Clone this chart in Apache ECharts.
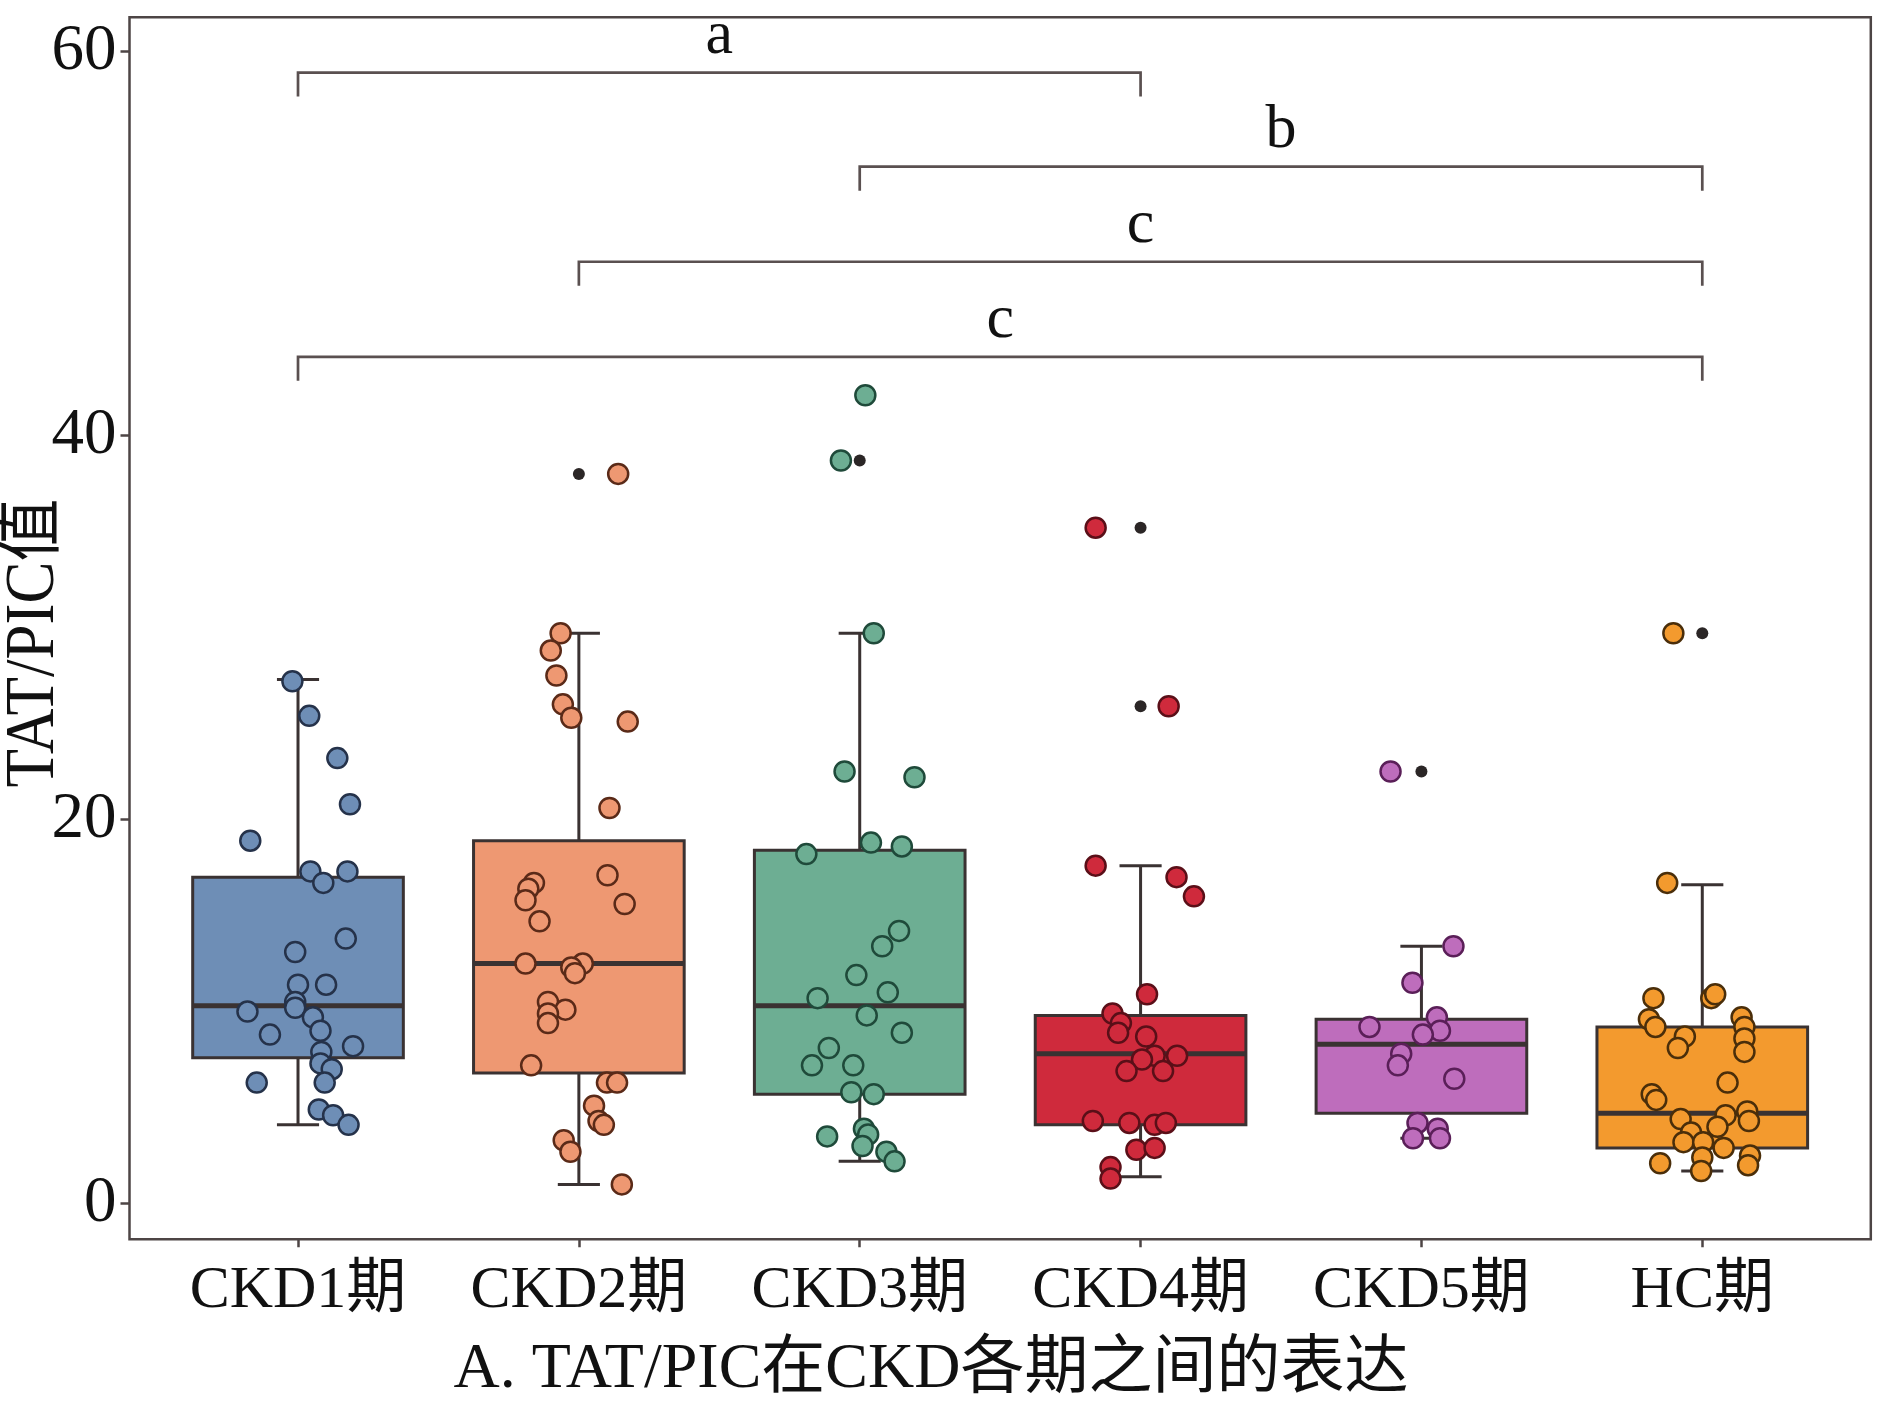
<!DOCTYPE html>
<html><head><meta charset="utf-8">
<script src="https://cdn.jsdelivr.net/npm/echarts@6/dist/echarts.min.js"></script>
<style>html,body{margin:0;padding:0;background:#fff}#c{width:1890px;height:1417px}</style>
</head><body><div id="c"></div>
<script>
// ---------------- data ----------------
const categories = ['CKD1期', 'CKD2期', 'CKD3期', 'CKD4期', 'CKD5期', 'HC期'];
const yTickValues = [0, 20, 40, 60];

// box statistics per group
const boxLow    = [4.1, 1.0, 2.2, 1.4, 3.4, 1.7];
const boxQ1     = [7.6, 6.8, 5.7, 4.1, 4.7, 2.9];
const boxMedian = [10.3, 12.5, 10.3, 7.8, 8.3, 4.7];
const boxQ3     = [17.0, 18.9, 18.4, 9.8, 9.6, 9.2];
const boxHigh   = [27.3, 29.7, 29.7, 17.6, 13.4, 16.6];

// outliers (group index, value)
const outlierGroup = [1, 2, 3, 3, 4, 5];
const outlierValue = [38.0, 38.7, 35.2, 25.9, 22.5, 29.7];

// jittered observations: values and horizontal jitter (category units)
const ckd1Values = [27.2, 25.4, 23.2, 20.8, 18.9, 17.3, 17.3, 16.7, 13.8, 13.1, 11.4, 11.4, 10.5, 10.2, 10.0, 9.7, 8.8, 9.0, 8.2, 7.9, 7.3, 7.0, 6.3, 6.3, 4.9, 4.6, 4.1];
const ckd1Jitter = [-0.02, 0.04, 0.14, 0.185, -0.17, 0.044, 0.176, 0.09, 0.17, -0.01, 0.0, 0.10, -0.01, -0.01, -0.18, 0.053, -0.10, 0.08, 0.196, 0.083, 0.08, 0.12, 0.095, -0.147, 0.074, 0.125, 0.18];

const ckd2Values = [29.7, 28.8, 27.5, 26.0, 25.3, 25.1, 20.6, 17.1, 16.7, 16.4, 15.8, 15.6, 14.7, 12.5, 12.5, 12.3, 12.0, 10.5, 10.1, 9.9, 9.4, 7.2, 6.3, 6.3, 5.1, 4.3, 4.1, 3.3, 2.7, 1.0, 38.0];
const ckd2Jitter = [-0.065, -0.10, -0.08, -0.057, -0.027, 0.174, 0.109, 0.102, -0.16, -0.18, -0.19, 0.163, -0.14, -0.19, 0.014, -0.027, -0.014, -0.11, -0.048, -0.11, -0.11, -0.17, 0.10, 0.136, 0.054, 0.07, 0.089, -0.054, -0.03, 0.153, 0.14];

const ckd3Values = [42.1, 38.7, 29.7, 22.5, 22.2, 18.2, 18.8, 18.6, 14.2, 13.4, 11.9, 10.7, 11.0, 9.8, 8.9, 8.1, 7.2, 7.2, 5.8, 5.7, 3.5, 3.9, 3.6, 3.0, 2.7, 2.2];
const ckd3Jitter = [0.02, -0.067, 0.05, -0.054, 0.195, -0.19, 0.04, 0.15, 0.14, 0.08, -0.012, -0.15, 0.10, 0.025, 0.15, -0.11, -0.17, -0.023, -0.03, 0.05, -0.116, 0.015, 0.03, 0.01, 0.095, 0.124];

const ckd4Values = [35.2, 25.9, 17.6, 17.0, 16.0, 10.9, 9.9, 9.4, 8.9, 8.7, 7.7, 7.5, 7.7, 6.9, 6.9, 4.3, 4.2, 4.1, 4.2, 2.8, 2.9, 1.9, 1.3];
const ckd4Jitter = [-0.16, 0.10, -0.16, 0.128, 0.19, 0.023, -0.10, -0.07, -0.08, 0.02, 0.05, 0.005, 0.13, -0.05, 0.08, -0.17, -0.04, 0.05, 0.09, -0.015, 0.05, -0.107, -0.107];

const ckd5Values = [22.5, 13.4, 11.5, 9.2, 9.7, 9.0, 8.8, 7.8, 7.2, 6.5, 4.2, 3.9, 3.4, 3.4];
const ckd5Jitter = [-0.11, 0.114, -0.032, -0.185, 0.055, 0.066, 0.005, -0.072, -0.084, 0.117, -0.014, 0.058, -0.03, 0.066];

const hcValues = [29.7, 16.7, 10.7, 10.7, 10.9, 9.6, 9.2, 9.7, 9.2, 8.7, 8.1, 8.6, 7.9, 6.3, 5.7, 5.4, 4.6, 4.8, 4.3, 4.4, 3.7, 4.0, 3.2, 3.2, 2.9, 2.4, 2.1, 2.5, 2.0, 1.7];
const hcJitter = [-0.103, -0.125, -0.174, 0.032, 0.046, -0.19, -0.167, 0.14, 0.15, -0.062, -0.087, 0.15, 0.15, 0.09, -0.18, -0.164, 0.083, 0.16, 0.166, -0.077, -0.04, 0.054, -0.067, 0.003, 0.076, 0.0, -0.15, 0.17, 0.163, -0.004];

// significance brackets
const bracketFrom  = [0, 2, 1, 0];
const bracketTo    = [3, 5, 5, 5];
const bracketY     = [58.9, 54.0, 49.05, 44.1];
const bracketLabel = ['a', 'b', 'c', 'c'];

const titleText = 'A. TAT/PIC在CKD各期之间的表达';
const yAxisTitle = 'TAT/PIC值';

// ---------------- styling ----------------
const fills   = ['#6E8EB6', '#EE9872', '#6DAE93', '#CF2A3C', '#BE6DBC', '#F39A2E'];
const borders = ['#25324a', '#5a2a18', '#1f4a3a', '#5a0f18', '#5a1f58', '#4a2e0a'];
const lineDark = '#3a3232';
const frameColor = '#4d4545';
const serif = "'Liberation Serif', 'Noto Sans CJK SC', serif";

const groupValues = [ckd1Values, ckd2Values, ckd3Values, ckd4Values, ckd5Values, hcValues];
const groupJitter = [ckd1Jitter, ckd2Jitter, ckd3Jitter, ckd4Jitter, ckd5Jitter, hcJitter];

const boxData = categories.map((c, i) => [i, boxLow[i], boxQ1[i], boxMedian[i], boxQ3[i], boxHigh[i]]);
const bracketData = bracketFrom.map((f, i) => [f, bracketTo[i], bracketY[i], bracketLabel[i]]);

const chart = echarts.init(document.getElementById('c'), null, { renderer: 'canvas' });

const series = [];
series.push({
  type: 'custom',
  data: boxData,
  encode: { x: 0, y: [1, 2, 3, 4, 5] },
  z: 2,
  renderItem: function (params, api) {
    const i = api.value(0);
    const pLow = api.coord([i, api.value(1)]);
    const pQ1 = api.coord([i, api.value(2)]);
    const pMed = api.coord([i, api.value(3)]);
    const pQ3 = api.coord([i, api.value(4)]);
    const pHigh = api.coord([i, api.value(5)]);
    const bw = api.size([0.75, 0])[0];
    const cw = api.size([0.15, 0])[0];
    const x = pMed[0];
    const ls = { stroke: lineDark, lineWidth: 3 };
    return {
      type: 'group',
      children: [
        { type: 'line', shape: { x1: x, y1: pHigh[1], x2: x, y2: pLow[1] }, style: ls },
        { type: 'line', shape: { x1: x - cw / 2, y1: pHigh[1], x2: x + cw / 2, y2: pHigh[1] }, style: ls },
        { type: 'line', shape: { x1: x - cw / 2, y1: pLow[1], x2: x + cw / 2, y2: pLow[1] }, style: ls },
        { type: 'rect', shape: { x: x - bw / 2, y: pQ3[1], width: bw, height: pQ1[1] - pQ3[1] },
          style: { fill: fills[i], stroke: lineDark, lineWidth: 3 } },
        { type: 'line', shape: { x1: x - bw / 2, y1: pMed[1], x2: x + bw / 2, y2: pMed[1] },
          style: { stroke: lineDark, lineWidth: 5 } }
      ]
    };
  }
});

series.push({
  type: 'scatter',
  data: outlierGroup.map((g, i) => [g, outlierValue[i]]),
  symbolSize: 12,
  itemStyle: { color: '#2b2626', opacity: 1 },
  z: 3,
  silent: true
});

groupValues.forEach((vals, g) => {
  series.push({
    type: 'scatter',
    data: vals.map((v, j) => [g + groupJitter[g][j], v]),
    symbolSize: 20,
    itemStyle: { color: fills[g], borderColor: borders[g], borderWidth: 2.5, opacity: 1 },
    z: 4,
    silent: true
  });
});

series.push({
  type: 'custom',
  data: bracketData,
  encode: { x: [0, 1], y: 2 },
  z: 5,
  renderItem: function (params, api) {
    const p1 = api.coord([api.value(0), api.value(2)]);
    const p2 = api.coord([api.value(1), api.value(2)]);
    const drop = api.size([0, 1.25])[1];
    const lbl = bracketData[params.dataIndex][3];
    return {
      type: 'group',
      children: [
        { type: 'polyline', shape: { points: [[p1[0], p1[1] + drop], [p1[0], p1[1]], [p2[0], p2[1]], [p2[0], p2[1] + drop]] },
          style: { stroke: '#5a5050', lineWidth: 2.7, fill: null } },
        { type: 'text', style: { text: lbl, x: (p1[0] + p2[0]) / 2, y: p1[1] - 5, align: 'center', verticalAlign: 'bottom',
          font: '62px ' + serif, fill: '#111' } }
      ]
    };
  }
});

const option = {
  animation: false,
  backgroundColor: '#ffffff',
  grid: { left: 129.5, right: 19.2, top: 17.3, bottom: 177.7, show: true, borderColor: frameColor, borderWidth: 2.5, backgroundColor: 'transparent' },
  xAxis: {
    type: 'value', min: -0.6, max: 5.6,
    splitLine: { show: false },
    axisLine: { show: false, onZero: false },
    axisTick: { show: true, customValues: [0, 1, 2, 3, 4, 5], length: 8, lineStyle: { color: frameColor, width: 2.5 } },
    axisLabel: { customValues: [0, 1, 2, 3, 4, 5], formatter: v => categories[Math.round(v)], fontFamily: serif, fontSize: 60, color: '#111', margin: 22 }
  },
  yAxis: {
    type: 'value', min: -1.86, max: 61.78,
    splitLine: { show: false },
    axisLine: { show: false, onZero: false },
    axisTick: { show: true, customValues: yTickValues, length: 9, lineStyle: { color: frameColor, width: 2.5 } },
    axisLabel: { customValues: yTickValues, fontFamily: serif, fontSize: 65, color: '#111', margin: 13 }
  },
  graphic: [
    { type: 'text', x: 931, y: 1370, style: { text: titleText, font: '64px ' + serif, fill: '#111', align: 'center', verticalAlign: 'middle' } },
    { type: 'text', x: 35, y: 643, rotation: Math.PI / 2, scaleY: 1.1,
      style: { text: yAxisTitle, font: '63px ' + serif, fill: '#111', align: 'center', verticalAlign: 'middle' } }
  ],
  series: series
};
chart.setOption(option);
</script>
</body></html>
